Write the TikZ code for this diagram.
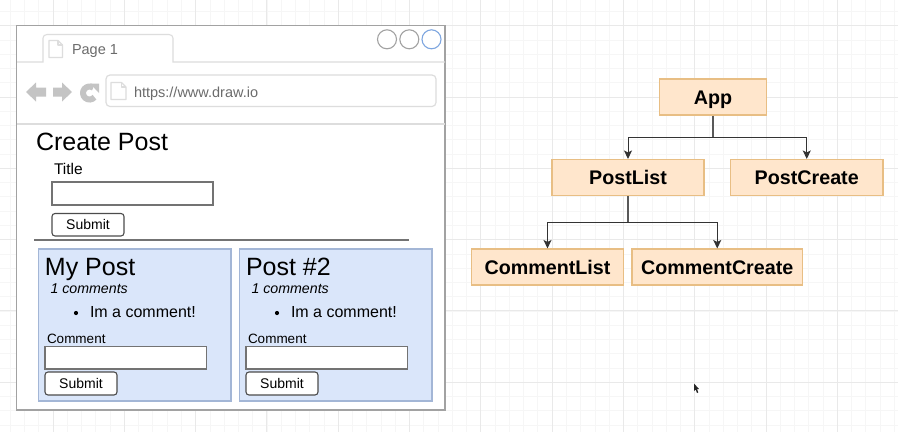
\documentclass[tikz,border=0pt]{standalone}
\usepackage{fontspec}
\setmainfont{Liberation Sans}
\usetikzlibrary{arrows.meta}
\definecolor{gridminor}{HTML}{F6F6F6}
\definecolor{gridmajor}{HTML}{E9E9E9}
\definecolor{winline}{HTML}{A2A2A2}
\definecolor{chrome}{HTML}{DDDDDD}
\definecolor{icon}{HTML}{C4C4C4}
\definecolor{cardfill}{HTML}{DAE6FA}
\definecolor{cardline}{HTML}{A3B6D6}
\definecolor{compfill}{HTML}{FFE6CC}
\definecolor{compline}{HTML}{E8BE84}
\definecolor{ctlblue}{HTML}{7EA6E0}
\newcommand{\fs}[1]{\fontsize{#1}{#1}\selectfont}
\tikzset{
  txt/.style={anchor=base west,inner sep=0pt,outer sep=0pt,text=black},
  comp/.style={draw=compline,fill=compfill,line width=1.1pt,inner sep=0pt,font=\fs{19.7}\bfseries,text=black,text height=16pt,text depth=1.4pt},
  conn/.style={draw=black!80,line width=1pt,-{Stealth[length=8.5pt,width=8pt,inset=2pt]}},
  stem/.style={draw=black!65,line width=1.4pt},
  field/.style={draw=black!55,fill=white,line width=1.1pt,inner sep=0pt},
  btn/.style={draw=black!70,fill=white,line width=1.1pt,rounded corners=3pt,inner sep=0pt,font=\fs{14},text=black},
  card/.style={draw=cardline,fill=cardfill,line width=1.2pt,inner sep=0pt},
  ctl/.style={draw=winline,fill=white,line width=1.1pt,circle,minimum size=19pt,inner sep=0pt},
  docicon/.style={draw=chrome,fill=white,line width=1.2pt,line join=round},
}
\newcommand{\boxnode}[7]{% style,name,x1,y1,x2,y2,text
  \node[#1,minimum width=#5pt-#3pt,minimum height=#6pt-#4pt] (#2) at ({(#3+#5)/2},{(#4+#6)/2}) {#7};}
\newcommand{\docglyph}[4]{% x1,y1,x2,y2
  \draw[docicon] (#1,#2) -- ({#3-4.5},#2) -- (#3,{#2+4.5}) -- (#3,#4) -- (#1,#4) -- cycle;
  \draw[docicon,fill=none] ({#3-4.5},#2) -- ({#3-4.5},{#2+4.5}) -- (#3,{#2+4.5});}
\newcommand{\postcard}[5]{% prefix, dx, title, title x, comment-count x
  \begin{scope}[xshift=#2pt]
    \boxnode{card}{#1card}{38.5}{249}{231}{401}{}
    \node[txt,font=\fs{25}] (#1title) at (#4,275.5) {#3};
    \node[txt,font=\fs{14.2}\itshape] (#1count) at (#5,293.5) {1 comments};
    \fill (76,313) circle (2.1);
    \node[txt,font=\fs{16}] (#1comment) at (90,317.5) {Im a comment!};
    \node[txt,font=\fs{13.5}] (#1label) at (47,343) {Comment};
    \boxnode{field}{#1input}{45}{346.5}{206.5}{369}{}
    \boxnode{btn}{#1submit}{45}{372}{117}{395}{Submit}
  \end{scope}}
\begin{document}
\begin{tikzpicture}[x=1pt,y=-1pt]
\useasboundingbox (0,0) rectangle (898,432);
\fill[white] (0,0) rectangle (898,432);
% grid
\foreach \k in {-3,...,60} {
  \draw[gridminor,line width=.7pt] ({53+14.26*\k},0) -- ({53+14.26*\k},432);
  \draw[gridminor,line width=.7pt] (0,{25.7+14.26*\k}) -- (898,{25.7+14.26*\k});
}
\foreach \k in {0,...,11} {
  \draw[gridmajor,line width=.9pt] ({53+71.3*\k},0) -- ({53+71.3*\k},432);
}
\foreach \k in {0,...,5} {
  \draw[gridmajor,line width=.9pt] (0,{25.7+71.3*\k}) -- (898,{25.7+71.3*\k});
}
% browser window
\boxnode{draw=winline,fill=white,line width=1.6pt,inner sep=0pt}{window}{16.5}{25.5}{445}{410}{}
\draw[chrome,line width=1.1pt] (17,62) -- (43,62) -- (43,38) to[out=90,in=180] (47,34.5) -- (169,34.5) to[out=0,in=90] (173,38) -- (173,62) -- (445,62);
\docglyph{49}{40.5}{62.5}{57.5}
\node[txt,text=black!58,font=\fs{14.5}] (tabtext) at (72,54.5) {Page 1};
\node[ctl] (c1) at (387,39.3) {};
\node[ctl] (c2) at (409.3,39.3) {};
\node[ctl,draw=ctlblue] (c3) at (431.5,39.3) {};
% nav icons
\fill[icon] (26,92) -- (36,82.5) -- (36,87.5) -- (46,87.5) -- (46,96.5) -- (36,96.5) -- (36,101.5) -- cycle;
\fill[icon] (72,92) -- (62,82.5) -- (62,87.5) -- (53,87.5) -- (53,96.5) -- (62,96.5) -- (62,101.5) -- cycle;
\draw[icon,line width=6pt] (94.5,97.2) arc[start angle=40,end angle=305,radius=6.5];
\fill[icon] (90,83.5) -- (99,83.5) -- (99,93) -- cycle;
% address bar
\boxnode{draw=chrome,fill=white,line width=1.2pt,rounded corners=4pt,inner sep=0pt}{urlbar}{106}{75}{436}{106.5}{}
\docglyph{111}{82.5}{126}{99.5}
\node[txt,text=black!58,font=\fs{14.5}] (urltext) at (134,97.5) {https://www.draw.io};
\draw[chrome,line width=1.1pt] (17,124) -- (445,124);
% create post form
\node[txt,font=\fs{25}] (createpost) at (36,150.5) {Create Post};
\node[txt,font=\fs{15.5}] (titlelabel) at (54,174.5) {Title};
\boxnode{field}{titleinput}{52}{182}{213}{205}{}
\boxnode{btn}{submitpost}{52}{213.5}{124}{236}{Submit}
\draw[black!55,line width=1.1pt] (34,240) -- (409,240);
% post cards
\postcard{a}{0}{My Post}{45}{50.5}
\postcard{b}{201}{Post \#2}{45}{50.5}
% component tree
\boxnode{comp}{app}{659.5}{79}{766.5}{115}{App}
\boxnode{comp}{postlist}{552}{159.5}{704}{195.5}{PostList}
\boxnode{comp}{postcreate}{730.5}{159.5}{883}{195.5}{PostCreate}
\boxnode{comp}{commentlist}{471.5}{249}{623.5}{285}{CommentList}
\boxnode{comp}{commentcreate}{632}{249}{802.5}{285}{CommentCreate}
\coordinate (j1) at (app.south |- 0,137);
\coordinate (j2) at (postlist.south |- 0,222);
\draw[stem] (app.south) -- (j1);
\draw[conn] (j1) -| (postlist.north);
\draw[conn] (j1) -| (postcreate.north);
\draw[stem] (postlist.south) -- (j2);
\draw[conn] (j2) -| (commentlist.north);
\draw[conn] (j2) -| (commentcreate.north);
% mouse cursor
\fill[black!85] (694,383.5) -- (694,391) -- (695.7,389.6) -- (697,393) -- (698.3,392.4) -- (697.1,389.2) -- (699,389) -- cycle;
\end{tikzpicture}
\end{document}
